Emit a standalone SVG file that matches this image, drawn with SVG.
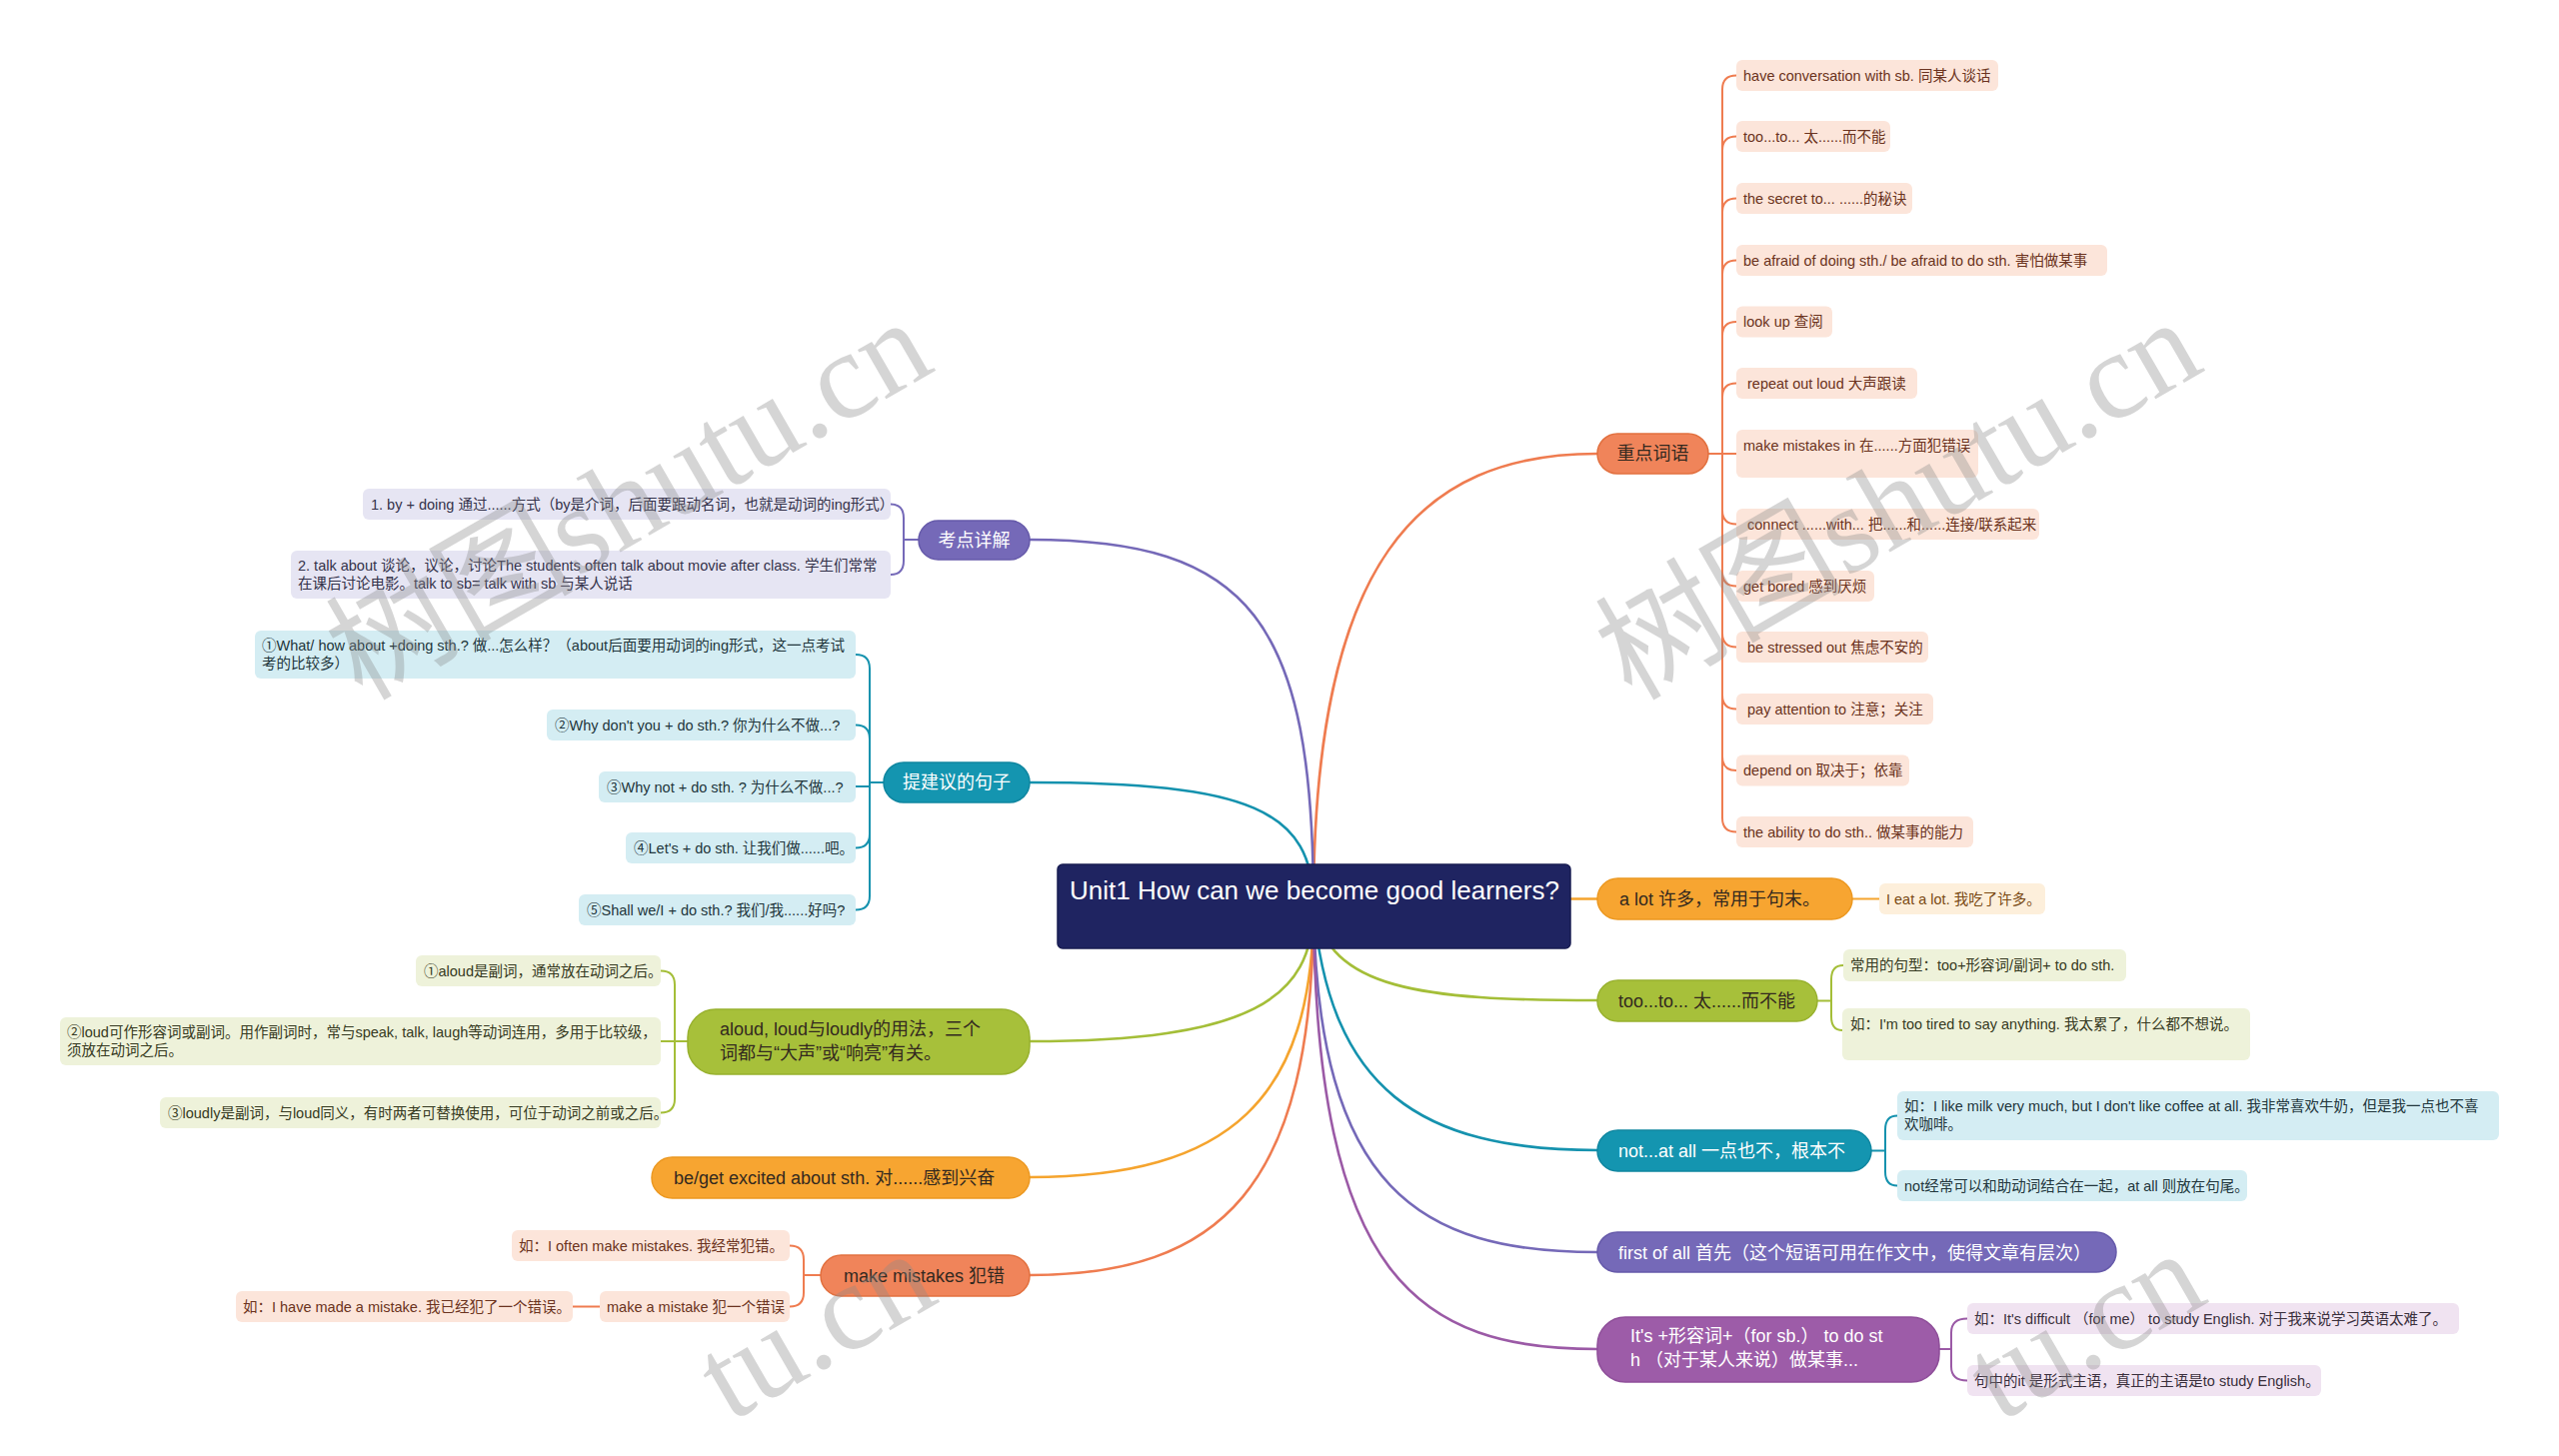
<svg xmlns="http://www.w3.org/2000/svg" width="2560" height="1457" viewBox="0 0 2560 1457">
<style>
text{font-family:"Liberation Sans","Noto Sans CJK SC",sans-serif}
.t18{font-size:18px}
.t14{font-size:14.5px}
.ctr{text-anchor:middle}
.w{fill:#ffffff}
.dk{fill:#33291f}
.c{fill:none;stroke-width:2.6;stroke-linecap:round}
.b{fill:none;stroke-width:2;stroke-linecap:round}
.or{stroke:#EF7C50}.pu{stroke:#7569B8}.te{stroke:#1592AE}.yg{stroke:#A4BE38}.am{stroke:#F5A42E}.vi{stroke:#9B5AA6}
.n-or{fill:#F0845A;stroke:#E2703F;stroke-width:1.5}
.n-pu{fill:#7569B8;stroke:#665AAA;stroke-width:1.5}
.n-te{fill:#1495B0;stroke:#0F86A0;stroke-width:1.5}
.n-yg{fill:#A7C03A;stroke:#98B12E;stroke-width:1.5}
.n-am{fill:#F7A531;stroke:#EC9820;stroke-width:1.5}
.n-vi{fill:#9D5CA8;stroke:#8E4E99;stroke-width:1.5}
.s-or{fill:#FCE5DA}.s-pu{fill:#E6E5F3}.s-te{fill:#D4EDF3}.s-yg{fill:#EEF2DA}.s-am{fill:#FDEFDB}.s-vi{fill:#F0E3F1}
.x-or{fill:#6B3320}.x-pu{fill:#34324a}.x-te{fill:#22363c}.x-yg{fill:#363a22}.x-am{fill:#7a4a14}.x-vi{fill:#3a2f3c}
.wm{font-family:"Liberation Serif","Noto Sans CJK SC",serif;font-size:124px;fill:#8a8a8a;opacity:0.35}
</style>
<rect width="2560" height="1457" fill="#ffffff"/>
<g id="connectors">
<path class="c or" d="M1314,907 C1314,560 1420,454 1598,454"/>
<path class="c pu" d="M1314,907 C1314,620 1250,540 1030,540"/>
<path class="c te" d="M1314,907 C1314,810 1250,783 1030,783"/>
<path class="c yg" d="M1314,907 C1314,1000 1250,1042 1030,1042"/>
<path class="c am" d="M1314,907 C1314,1100 1230,1178 1030,1178"/>
<path class="c or" d="M1314,907 C1314,1190 1220,1276 1030,1276"/>
<path class="c am" d="M1571,899.5 H1598"/>
<path class="c yg" d="M1314,907 C1330,990 1420,1001 1598,1001"/>
<path class="c te" d="M1314,907 C1330,1090 1420,1151 1598,1151"/>
<path class="c pu" d="M1314,907 C1318,1190 1420,1253 1598,1253"/>
<path class="c vi" d="M1314,907 C1316,1280 1420,1350 1598,1350"/>
<path class="b or" d="M1709,454 H1723 V89.5 Q1723,75.5 1737,75.5"/>
<path class="b or" d="M1723,454 V150.5 Q1723,136.5 1737,136.5"/>
<path class="b or" d="M1723,454 V212.5 Q1723,198.5 1737,198.5"/>
<path class="b or" d="M1723,454 V274.5 Q1723,260.5 1737,260.5"/>
<path class="b or" d="M1723,454 V336 Q1723,322 1737,322"/>
<path class="b or" d="M1723,454 V397.5 Q1723,383.5 1737,383.5"/>
<path class="b or" d="M1709,454 H1737"/>
<path class="b or" d="M1723,454 V510.5 Q1723,524.5 1737,524.5"/>
<path class="b or" d="M1723,454 V572.5 Q1723,586.5 1737,586.5"/>
<path class="b or" d="M1723,454 V633.5 Q1723,647.5 1737,647.5"/>
<path class="b or" d="M1723,454 V695.5 Q1723,709.5 1737,709.5"/>
<path class="b or" d="M1723,454 V757 Q1723,771 1737,771"/>
<path class="b or" d="M1723,454 V818.5 Q1723,832.5 1737,832.5"/>
<path class="b pu" d="M919,540 H904 V518.5 Q904,504.5 891,504.5"/>
<path class="b pu" d="M904,540 V561 Q904,575 891,575"/>
<path class="b te" d="M884,783 H870 V669 Q870,655 856,655"/>
<path class="b te" d="M870,783 V739.5 Q870,725.5 856,725.5"/>
<path class="b te" d="M870,783 V787 H856"/>
<path class="b te" d="M870,783 V834.5 Q870,848.5 856,848.5"/>
<path class="b te" d="M870,783 V896.5 Q870,910.5 856,910.5"/>
<path class="b yg" d="M688,1042 H675 V985.5 Q675,971.5 661,971.5"/>
<path class="b yg" d="M675,1042 H661"/>
<path class="b yg" d="M675,1042 V1099.5 Q675,1113.5 661,1113.5"/>
<path class="b or" d="M821,1276 H804 V1260.5 Q804,1246.5 790,1246.5"/>
<path class="b or" d="M804,1276 V1293.5 Q804,1307.5 790,1307.5"/>
<path class="b or" d="M600,1307.5 H573"/>
<path class="b am" d="M1853,899.5 H1880"/>
<path class="b yg" d="M1818,1001.5 H1832 V980 Q1832,966 1844,966"/>
<path class="b yg" d="M1832,1001.5 V1017 Q1832,1031 1843,1031"/>
<path class="b te" d="M1872,1151.5 H1886 V1130.5 Q1886,1116.5 1898,1116.5"/>
<path class="b te" d="M1886,1151.5 V1172.5 Q1886,1186.5 1898,1186.5"/>
<path class="b vi" d="M1940,1350 H1952 V1333.5 Q1952,1319.5 1968,1319.5"/>
<path class="b vi" d="M1952,1350 V1367.5 Q1952,1381.5 1968,1381.5"/>
</g>

<g id="center">
<rect x="1058" y="865" width="513" height="84" rx="5" fill="#1F2461" stroke="#181C52" stroke-width="1.5"/>
<text x="1070" y="900" style="font-size:26px" class="w">Unit1 How can we become good learners?</text>
</g>

<g id="n-zhongdian">
<rect x="1598" y="434" width="111" height="40" rx="20" class="n-or"/>
<text x="1653.5" y="460" class="t18 ctr dk">重点词语</text>
</g>
<g id="zd-1"><rect x="1737" y="60" width="262" height="31" rx="6" class="s-or"/><text x="1744" y="80.5" class="t14 x-or">have conversation with sb. 同某人谈话</text></g>
<g id="zd-2"><rect x="1737" y="121" width="154" height="31" rx="6" class="s-or"/><text x="1744" y="141.5" class="t14 x-or">too...to... 太......而不能</text></g>
<g id="zd-3"><rect x="1737" y="183" width="176" height="31" rx="6" class="s-or"/><text x="1744" y="203.5" class="t14 x-or">the secret to... ......的秘诀</text></g>
<g id="zd-4"><rect x="1737" y="245" width="371" height="31" rx="6" class="s-or"/><text x="1744" y="265.5" class="t14 x-or">be afraid of doing sth./ be afraid to do sth. 害怕做某事</text></g>
<g id="zd-5"><rect x="1737" y="306.5" width="96" height="31" rx="6" class="s-or"/><text x="1744" y="327" class="t14 x-or">look up 查阅</text></g>
<g id="zd-6"><rect x="1737" y="368" width="181" height="31" rx="6" class="s-or"/><text x="1748" y="388.5" class="t14 x-or">repeat out loud 大声跟读</text></g>
<g id="zd-7"><rect x="1737" y="430" width="242" height="48" rx="6" class="s-or"/><text x="1744" y="450.5" class="t14 x-or">make mistakes in 在......方面犯错误</text></g>
<g id="zd-8"><rect x="1737" y="509" width="303" height="31" rx="6" class="s-or"/><text x="1748" y="529.5" class="t14 x-or">connect ......with... 把......和......连接/联系起来</text></g>
<g id="zd-9"><rect x="1737" y="571" width="138" height="31" rx="6" class="s-or"/><text x="1744" y="591.5" class="t14 x-or">get bored 感到厌烦</text></g>
<g id="zd-10"><rect x="1737" y="632" width="192" height="31" rx="6" class="s-or"/><text x="1748" y="652.5" class="t14 x-or">be stressed out 焦虑不安的</text></g>
<g id="zd-11"><rect x="1737" y="694" width="197" height="31" rx="6" class="s-or"/><text x="1748" y="714.5" class="t14 x-or">pay attention to 注意；关注</text></g>
<g id="zd-12"><rect x="1737" y="755.5" width="173" height="31" rx="6" class="s-or"/><text x="1744" y="776" class="t14 x-or">depend on 取决于；依靠</text></g>
<g id="zd-13"><rect x="1737" y="817" width="237" height="31" rx="6" class="s-or"/><text x="1744" y="837.5" class="t14 x-or">the ability to do sth.. 做某事的能力</text></g>

<g id="n-kaodian">
<rect x="919" y="521" width="111" height="39" rx="19.5" class="n-pu"/>
<text x="974.5" y="546.5" class="t18 ctr w">考点详解</text>
</g>
<g id="kd-1"><rect x="363" y="489" width="528" height="31" rx="6" class="s-pu"/><text x="371" y="509.5" class="t14 x-pu">1. by + doing 通过......方式（by是介词，后面要跟动名词，也就是动词的ing形式）</text></g>
<g id="kd-2"><rect x="291" y="551" width="600" height="48" rx="6" class="s-pu"/><text x="298" y="571" class="t14 x-pu">2. talk about 谈论，议论，讨论The students often talk about movie after class. 学生们常常</text><text x="298" y="589" class="t14 x-pu">在课后讨论电影。talk to sb= talk with sb 与某人说话</text></g>

<g id="n-jianyi">
<rect x="884" y="763" width="146" height="40" rx="20" class="n-te"/>
<text x="957" y="789" class="t18 ctr w">提建议的句子</text>
</g>
<g id="jy-1"><rect x="255" y="631" width="601" height="48" rx="6" class="s-te"/><text x="262" y="651" class="t14 x-te">①What/ how about +doing sth.? 做...怎么样？（about后面要用动词的ing形式，这一点考试</text><text x="262" y="669" class="t14 x-te">考的比较多）</text></g>
<g id="jy-2"><rect x="547" y="710" width="309" height="31" rx="6" class="s-te"/><text x="555" y="730.5" class="t14 x-te">②Why don't you + do sth.? 你为什么不做...?</text></g>
<g id="jy-3"><rect x="599" y="772" width="257" height="31" rx="6" class="s-te"/><text x="607" y="792.5" class="t14 x-te">③Why not + do sth. ? 为什么不做...?</text></g>
<g id="jy-4"><rect x="626" y="833" width="230" height="31" rx="6" class="s-te"/><text x="634" y="853.5" class="t14 x-te">④Let's + do sth. 让我们做......吧。</text></g>
<g id="jy-5"><rect x="579" y="895" width="277" height="31" rx="6" class="s-te"/><text x="587" y="915.5" class="t14 x-te">⑤Shall we/I + do sth.? 我们/我......好吗?</text></g>

<g id="n-aloud">
<rect x="688" y="1010" width="342" height="65" rx="28" class="n-yg"/>
<text x="720" y="1036" class="t18 dk">aloud, loud与loudly的用法，三个</text>
<text x="720" y="1060" class="t18 dk">词都与“大声”或“响亮”有关。</text>
</g>
<g id="al-1"><rect x="416" y="956" width="245" height="31" rx="6" class="s-yg"/><text x="424" y="976.5" class="t14 x-yg">①aloud是副词，通常放在动词之后。</text></g>
<g id="al-2"><rect x="60" y="1018" width="601" height="48" rx="6" class="s-yg"/><text x="67" y="1038" class="t14 x-yg">②loud可作形容词或副词。用作副词时，常与speak, talk, laugh等动词连用，多用于比较级，</text><text x="67" y="1056" class="t14 x-yg">须放在动词之后。</text></g>
<g id="al-3"><rect x="160" y="1098" width="501" height="31" rx="6" class="s-yg"/><text x="168" y="1118.5" class="t14 x-yg">③loudly是副词，与loud同义，有时两者可替换使用，可位于动词之前或之后。</text></g>

<g id="n-excited">
<rect x="652" y="1158" width="378" height="41" rx="20.5" class="n-am"/>
<text x="674" y="1185" class="t18 dk">be/get excited about sth. 对......感到兴奋</text>
</g>

<g id="n-mistakes">
<rect x="821" y="1256" width="209" height="41" rx="20.5" class="n-or"/>
<text x="844" y="1283" class="t18 dk">make mistakes 犯错</text>
</g>
<g id="mm-1"><rect x="512" y="1231" width="278" height="31" rx="6" class="s-or"/><text x="519" y="1251.5" class="t14 x-or">如：I often make mistakes. 我经常犯错。</text></g>
<g id="mm-2"><rect x="600" y="1292" width="190" height="31" rx="6" class="s-or"/><text x="607" y="1312.5" class="t14 x-or">make a mistake 犯一个错误</text></g>
<g id="mm-3"><rect x="236" y="1292" width="337" height="31" rx="6" class="s-or"/><text x="243" y="1312.5" class="t14 x-or">如：I have made a mistake. 我已经犯了一个错误。</text></g>

<g id="n-alot">
<rect x="1598" y="879" width="255" height="41" rx="20.5" class="n-am"/>
<text x="1620" y="906" class="t18 dk">a lot 许多，常用于句末。</text>
</g>
<g id="alot-1"><rect x="1880" y="884" width="166" height="31" rx="6" class="s-am"/><text x="1887" y="904.5" class="t14 x-am">I eat a lot. 我吃了许多。</text></g>

<g id="n-tooto">
<rect x="1598" y="981" width="220" height="41" rx="20.5" class="n-yg"/>
<text x="1619" y="1008" class="t18 dk">too...to... 太......而不能</text>
</g>
<g id="tt-1"><rect x="1844" y="950" width="283" height="32" rx="6" class="s-yg"/><text x="1851" y="971" class="t14 x-yg">常用的句型：too+形容词/副词+ to do sth.</text></g>
<g id="tt-2"><rect x="1843" y="1009" width="408" height="52" rx="6" class="s-yg"/><text x="1851" y="1030" class="t14 x-yg">如：I'm too tired to say anything. 我太累了，什么都不想说。</text></g>

<g id="n-notatall">
<rect x="1598" y="1131" width="274" height="41" rx="20.5" class="n-te"/>
<text x="1619" y="1158" class="t18 w">not...at all 一点也不，根本不</text>
</g>
<g id="na-1"><rect x="1898" y="1092" width="602" height="49" rx="6" class="s-te"/><text x="1905" y="1112" class="t14 x-te">如：I like milk very much, but I don't like coffee at all. 我非常喜欢牛奶，但是我一点也不喜</text><text x="1905" y="1130" class="t14 x-te">欢咖啡。</text></g>
<g id="na-2"><rect x="1898" y="1171" width="350" height="31" rx="6" class="s-te"/><text x="1905" y="1191.5" class="t14 x-te">not经常可以和助动词结合在一起，at all 则放在句尾。</text></g>

<g id="n-firstofall">
<rect x="1598" y="1233" width="519" height="40" rx="20" class="n-pu"/>
<text x="1619" y="1259.5" class="t18 w">first of all 首先（这个短语可用在作文中，使得文章有层次）</text>
</g>

<g id="n-its">
<rect x="1598" y="1318" width="342" height="65" rx="28" class="n-vi"/>
<text x="1631" y="1343" class="t18 w">It's +形容词+（for sb.） to do st</text>
<text x="1631" y="1367" class="t18 w">h （对于某人来说）做某事...</text>
</g>
<g id="its-1"><rect x="1968" y="1304" width="492" height="31" rx="6" class="s-vi"/><text x="1975" y="1324.5" class="t14 x-vi">如：It's difficult （for me） to study English. 对于我来说学习英语太难了。</text></g>
<g id="its-2"><rect x="1968" y="1366" width="354" height="31" rx="6" class="s-vi"/><text x="1975" y="1386.5" class="t14 x-vi">句中的it 是形式主语，真正的主语是to study English。</text></g>

<g id="watermark">
<text class="wm" transform="translate(362,702) rotate(-30)">树图shutu.cn</text>
<text class="wm" transform="translate(1632,702) rotate(-30)">树图shutu.cn</text>
<text class="wm" transform="translate(730,1424) rotate(-30)">tu.cn</text>
<text class="wm" transform="translate(2000,1424) rotate(-30)">tu.cn</text>
</g>
</svg>
